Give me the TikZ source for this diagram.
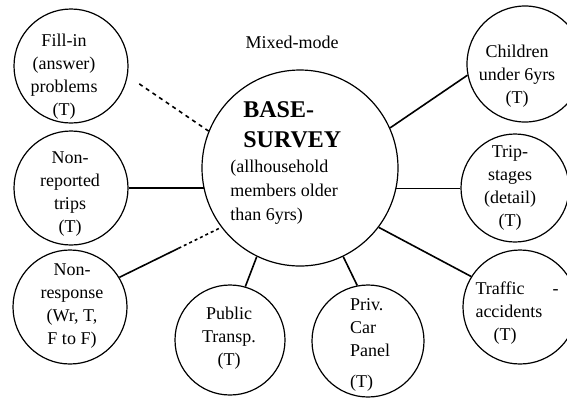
\documentclass[tikz,border=0pt]{standalone}
\usepackage{fontspec}
\setmainfont{Liberation Serif}
\usetikzlibrary{calc}

\begin{document}
\begin{tikzpicture}[x=0.5pt,y=-0.5pt,
  circ/.style={draw,circle,line width=0.6pt,inner sep=0pt,minimum size=57pt},
  lbl/.style={align=center,inner sep=0pt,font=\fontsize{9}{11.5}\selectfont},
  link/.style={line width=0.8pt}]
\useasboundingbox (0,0) rectangle (567,398);
% A) base survey in the middle
\node[circ,minimum size=98pt] (base) at (300,168) {};
\node[lbl,align=left,anchor=west,font=\fontsize{12}{15}\selectfont\bfseries] (basehead) at (243,125) {BASE-\\SURVEY};
\node[lbl,align=left,anchor=west,font=\fontsize{9}{12}\selectfont] (basebody) at (230,192) {(allhousehold\\members older\\than 6yrs)};
\node[lbl] (mixed) at (292,42) {Mixed-mode};
% B) sub-studies, left side
\node[circ] (fill) at (71,66) {};
\node[lbl] (fillt) at (64,77) {Fill-in\\(answer)\\problems\\(T)};
\node[circ] (nrep) at (71,188) {};
\node[lbl] (nrept) at (70,194) {Non-\\reported\\trips\\(T)};
\node[circ] (nresp) at (70,307) {};
\node[lbl] (nrespt) at (72,306) {Non-\\response\\(Wr, T,\\F to F)};
% C) sub-studies, bottom
\node[circ,minimum size=55pt] (pub) at (230,340) {};
\node[lbl] (pubt) at (229,338) {Public\\Transp.\\(T)};
\node[circ,minimum size=56pt] (priv) at (368,341) {};
\node[lbl,align=left] (privt) at (370,345) {Priv.\\Car\\Panel\\[4pt](T)};
% D) sub-studies, right side
\node[circ,minimum size=58pt] (child) at (525,64) {};
\node[lbl] (childt) at (517,76) {Children\\under 6yrs\\(T)};
\node[circ,minimum size=54pt] (trip) at (515,188) {};
\node[lbl] (tript) at (510,188) {Trip-\\stages\\(detail)\\(T)};
\node[circ] (traf) at (520,307) {};
\node[lbl,align=left] (traft) at (517,313) {Traffic\hspace*{14pt}-\\accidents\\\hspace*{9pt}(T)};
% connectors
\draw[link,dash pattern=on 2pt off 2pt,shorten <=7pt] (fill.-10) -- (base.158);
\draw[link] (nrep.east) -- (nrep.east -| base.192);
\draw[link] (nresp.31) -- ($(nresp.31)!0.58!(base.217)$) coordinate (nrmid);
\draw[link,dash pattern=on 1.5pt off 1.5pt] (nrmid) -- (base.217);
\draw[link] (pub.74) -- (base.244);
\draw[link] (priv.101) -- (base.296);
\draw[link] (traf.148) -- (base.323);
\draw[link] (base.-12) -- (base.-12 -| trip.west);
\draw[link] (base.24) -- (child.191);
\end{tikzpicture}
\end{document}
